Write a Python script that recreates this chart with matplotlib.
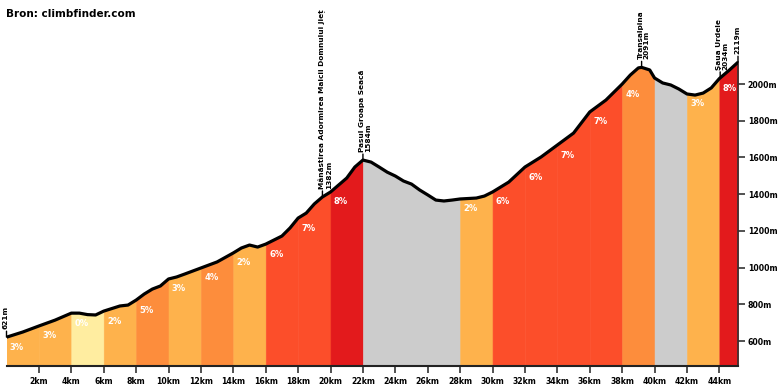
import numpy as np
import matplotlib
matplotlib.use("Agg")
import matplotlib.pyplot as plt

# elevation profile (km, m)
km = [0, 1, 2, 3, 4, 4.5, 5, 5.5, 6, 7, 7.5, 8, 8.5, 9, 9.5, 10, 10.5, 11, 12, 13,
      14, 14.5, 15, 15.5, 16, 17, 17.5, 18, 18.5, 19, 19.5, 20, 21, 21.5, 22,
      22.5, 23, 23.5, 24, 24.5, 25, 25.5, 26, 26.5, 27, 27.5, 28, 29, 29.5, 30,
      31, 32, 33, 34, 35, 36, 37, 38, 38.5, 39, 39.2, 39.7, 40, 40.5, 41, 41.5,
      42, 42.5, 43, 43.5, 44, 44.6, 45.15]
elev = [621, 649, 682, 714, 752, 752, 744, 742, 763, 791, 796, 823, 856, 883, 900,
        938, 949, 965, 998, 1031, 1080, 1107, 1123, 1112, 1128, 1172, 1216, 1270,
        1297, 1347, 1385, 1412, 1488, 1548, 1586, 1575, 1548, 1520, 1499, 1472,
        1455, 1423, 1396, 1368, 1363, 1368, 1374, 1379, 1390, 1412, 1466, 1548,
        1603, 1668, 1733, 1848, 1913, 2000, 2049, 2088, 2091, 2077, 2033, 2006,
        1995, 1973, 1946, 1940, 1951, 1979, 2030, 2075, 2119]

# gradient segments (None = descent)
seg_start = [0, 2, 4, 6, 8, 10, 12, 14, 16, 18, 20, 22, 28, 30, 32, 34, 36, 38, 40, 42, 44]
seg_end = [2, 4, 6, 8, 10, 12, 14, 16, 18, 20, 22, 28, 30, 32, 34, 36, 38, 40, 42, 44, 45.15]
seg_grade = [3, 3, 0, 2, 5, 3, 4, 2, 6, 7, 8, None, 2, 6, 6, 7, 7, 4, None, 3, 8]

# named points
poi_km = [0, 19.5, 22.0, 39.2, 44.05, 45.15]
poi_text = ["621m", "Mânăstirea Adormirea Maicii Domnului Jieț\n1382m",
            "Pasul Groapa Seacă\n1584m", "Transalpina\n2091m",
            "Şaua Urdele\n2034m", "2119m"]

x_ticks = list(range(2, 45, 2))
y_ticks = list(range(600, 2001, 200))


def grade_color(g):
    if g is None:
        return "#cccccc"
    if g <= 1:
        return "#ffeda0"
    if g <= 3:
        return "#feb24c"
    if g <= 5:
        return "#fd8d3c"
    if g <= 7:
        return "#fc4e2a"
    return "#e31a1c"


km_a = np.array(km)
elev_a = np.array(elev)

fig = plt.figure(figsize=(7.8, 3.9), dpi=100)
ax = fig.add_axes([6.5 / 780, 24 / 390, 731.5 / 780, 366 / 390])
ax.set_xlim(0, 45.15)
ax.set_ylim(464, 2458)

pct_font = dict(family="DejaVu Sans", weight="bold", size=6)
tick_font = dict(family="DejaVu Sans", weight="bold", size=5.6)
poi_font = dict(family="DejaVu Sans", weight="bold", size=5.3)

for a, b, g in zip(seg_start, seg_end, seg_grade):
    m = (km_a >= a - 1e-9) & (km_a <= b + 1e-9)
    c = grade_color(g)
    ax.fill_between(km_a[m], 0, elev_a[m], facecolor=c, edgecolor=c, lw=0.4, zorder=1)
    if g is not None:
        y0 = np.interp(a, km_a, elev_a)
        ax.annotate(f"{g}%", (a + 0.65, y0), xytext=(0, -10), textcoords="offset pixels",
                    ha="center", va="center", color="white", zorder=3, **pct_font)

ax.plot(km_a, elev_a, color="black", lw=2.3, solid_capstyle="butt", zorder=4)

for k, t in zip(poi_km, poi_text):
    y0 = np.interp(k, km_a, elev_a)
    ax.annotate("", (k, y0), xytext=(0, 6), textcoords="offset pixels",
                arrowprops=dict(arrowstyle="-", lw=1, color="black",
                                shrinkA=0, shrinkB=0))
    ax.annotate(t, (k, y0), xytext=(-4, 8), textcoords="offset pixels",
                rotation=90, ha="left", va="bottom", linespacing=1.0,
                multialignment="left", color="black", **poi_font)

fig.text(6 / 780, 1 - 14 / 390, "Bron: climbfinder.com", ha="left", va="center",
         family="DejaVu Sans", weight="bold", size=7.5)

for s in ("left", "top"):
    ax.spines[s].set_visible(False)
ax.spines["bottom"].set_color("#222222")
ax.spines["bottom"].set_linewidth(1.5)
ax.spines["right"].set_color("#333333")
ax.spines["right"].set_linewidth(1.2)
ax.spines["right"].set_bounds(464, elev[-1])

ax.set_xticks(x_ticks)
ax.set_xticklabels([f"{v}km" for v in x_ticks], **tick_font)
ax.yaxis.tick_right()
ax.set_yticks(y_ticks)
ax.set_yticklabels([f"{v}m" for v in y_ticks], **tick_font)
ax.tick_params(axis="x", length=5, width=1.2, color="#333333", pad=3)
ax.tick_params(axis="y", length=5, width=1.2, color="#333333", pad=2)
ax.patch.set_alpha(0)

fig.savefig("out.png", dpi=100)
